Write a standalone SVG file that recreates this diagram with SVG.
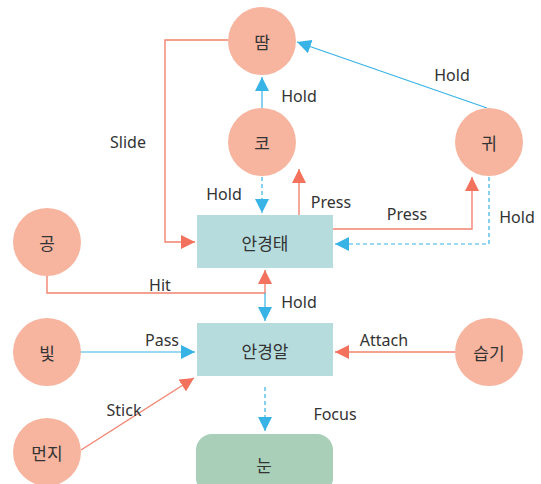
<svg xmlns="http://www.w3.org/2000/svg" width="541" height="484" viewBox="0 0 541 484">
<defs>
<marker id="ar" viewBox="0 0 10 10" refX="10" refY="5" markerWidth="14" markerHeight="14" markerUnits="userSpaceOnUse" orient="auto"><path d="M0,0L10,5L0,10z" fill="#f2725e"/></marker>
<marker id="ab" viewBox="0 0 10 10" refX="10" refY="5" markerWidth="14" markerHeight="14" markerUnits="userSpaceOnUse" orient="auto"><path d="M0,0L10,5L0,10z" fill="#38b3e6"/></marker>
<style>
.c{fill:#f7b59f}
.b{fill:#b6dcdd}
.e{fill:#a9cfb9}
.t{font-family:"Noto Sans CJK KR","Noto Sans",sans-serif;font-size:17px;fill:#333;text-anchor:middle;dominant-baseline:central}
.l{font-family:"Noto Sans","Noto Sans CJK KR",sans-serif;font-size:16px;fill:#333;text-anchor:middle}
.r{fill:none;stroke:#f2836f;stroke-width:1.4}
.u{fill:none;stroke:#38b3e6;stroke-width:1.2}
.d{stroke-dasharray:4 3}
</style>
</defs>
<g id="connectors">
<path class="r" d="M228,40H165V242H195" marker-end="url(#ar)"/>
<path class="u" d="M262,108V77" marker-end="url(#ab)"/>
<path class="u" d="M487,108L297,42" marker-end="url(#ab)"/>
<path class="u d" d="M262,177V213" marker-end="url(#ab)"/>
<path class="r" d="M299,215V169" marker-end="url(#ar)"/>
<path class="r" d="M333,229H472V177" marker-end="url(#ar)"/>
<path class="u d" d="M489,177V244H335" marker-end="url(#ab)"/>
<path class="r" d="M47,276V293H265V270" marker-end="url(#ar)"/>
<path class="u" d="M265,293V321" marker-end="url(#ab)"/>
<path class="u" d="M81,352H195" marker-end="url(#ab)"/>
<path class="r" d="M455,352H335" marker-end="url(#ar)"/>
<path class="r" d="M81,450L194,378" marker-end="url(#ar)"/>
<path class="u d" d="M265,387V431" marker-end="url(#ab)"/>
<text class="l" x="128" y="148">Slide</text>
<text class="l" x="299" y="102">Hold</text>
<text class="l" x="452" y="81">Hold</text>
<text class="l" x="224" y="200">Hold</text>
<text class="l" x="331" y="208">Press</text>
<text class="l" x="407" y="220">Press</text>
<text class="l" x="517" y="223">Hold</text>
<text class="l" x="160" y="291">Hit</text>
<text class="l" x="299" y="308">Hold</text>
<text class="l" x="162" y="346">Pass</text>
<text class="l" x="384" y="346">Attach</text>
<text class="l" x="124" y="416">Stick</text>
<text class="l" x="335" y="420">Focus</text>
</g>
<g id="n-ttam"><circle class="c" cx="262" cy="41" r="34"/><text class="t" x="262" y="41">땀</text></g>
<g id="n-ko"><circle class="c" cx="262" cy="142" r="34"/><text class="t" x="262" y="142">코</text></g>
<g id="n-gwi"><circle class="c" cx="489" cy="142" r="34"/><text class="t" x="489" y="142">귀</text></g>
<g id="n-gong"><circle class="c" cx="47" cy="242" r="34"/><text class="t" x="47" y="242">공</text></g>
<g id="n-bit"><circle class="c" cx="47" cy="352" r="34"/><text class="t" x="47" y="352">빛</text></g>
<g id="n-seupgi"><circle class="c" cx="489" cy="352" r="34"/><text class="t" x="489" y="352">습기</text></g>
<g id="n-meonji"><circle class="c" cx="47" cy="452" r="34"/><text class="t" x="47" y="452">먼지</text></g>
<g id="n-frame"><rect class="b" x="197" y="215" width="136" height="53"/><text class="t" x="265" y="242">안경태</text></g>
<g id="n-lens"><rect class="b" x="197" y="323" width="136" height="53"/><text class="t" x="265" y="350">안경알</text></g>
<g id="n-eye"><rect class="e" x="196" y="434" width="137" height="60" rx="16"/><text class="t" x="264" y="464">눈</text></g>
</svg>
